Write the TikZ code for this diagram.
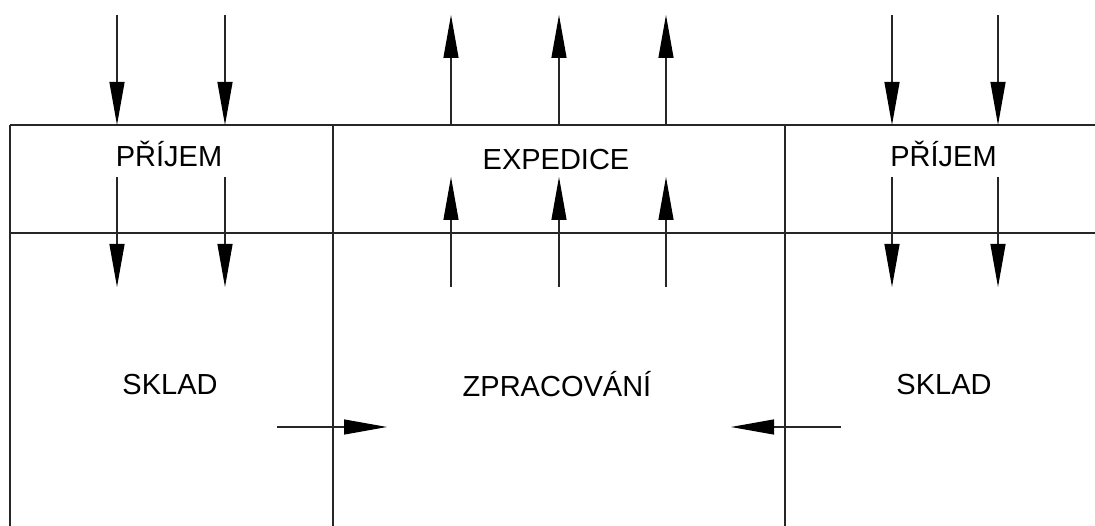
\documentclass[tikz,border=0pt]{standalone}
\usepackage{fontspec}
\setmainfont{Liberation Sans}
\usetikzlibrary{arrows.meta}
\begin{document}
\begin{tikzpicture}[x=1pt,y=-1pt,
  grid/.style={line width=1.2pt,draw=black!85},
  flow/.style={line width=1.2pt,draw=black!85,-{Triangle[length=43pt,width=15pt,fill=black,color=black]}},
  lbl/.style={inner sep=0pt,text height=20.8pt,text depth=0pt,font=\fontsize{29}{34}\selectfont}]
\useasboundingbox (0,0) rectangle (1095,526);
% grid
\draw[grid] (10,125) -- (1095,125);
\draw[grid] (10,233) -- (1095,233);
\draw[grid] (10,125) -- (10,526);
\draw[grid] (333,125) -- (333,526);
\draw[grid] (785,125) -- (785,526);
% labels
\node[lbl] (prijemL) at (169,156.5) {PŘÍJEM};
\node[lbl] (expedice) at (556,159) {EXPEDICE};
\node[lbl] (prijemR) at (943.5,156) {PŘÍJEM};
\node[lbl] (skladL) at (170,384.5) {SKLAD};
\node[lbl] (zprac) at (557,386) {ZPRACOVÁNÍ};
\node[lbl] (skladR) at (944,384) {SKLAD};
% down arrows (příjem)
\foreach \i/\x in {1/117,2/225,3/892,4/998}{
  \coordinate (da\i) at (\x,15);
  \coordinate (db\i) at (\x,125);
  \coordinate (dc\i) at (\x,177);
  \coordinate (dd\i) at (\x,287);
  \draw[flow] (da\i) -- (db\i);
  \draw[flow] (dc\i) -- (dd\i);
}
% up arrows (expedice)
\foreach \i/\x in {1/451,2/559,3/666}{
  \coordinate (ua\i) at (\x,125);
  \coordinate (ub\i) at (\x,15);
  \coordinate (uc\i) at (\x,287);
  \coordinate (ud\i) at (\x,177);
  \draw[flow] (ua\i) -- (ub\i);
  \draw[flow] (uc\i) -- (ud\i);
}
% horizontal arrows into processing
\coordinate (hl1) at (277,427);
\coordinate (hl2) at (387,427);
\coordinate (hr1) at (841,427);
\coordinate (hr2) at (731,427);
\draw[flow] (hl1) -- (hl2);
\draw[flow] (hr1) -- (hr2);
\end{tikzpicture}
\end{document}
